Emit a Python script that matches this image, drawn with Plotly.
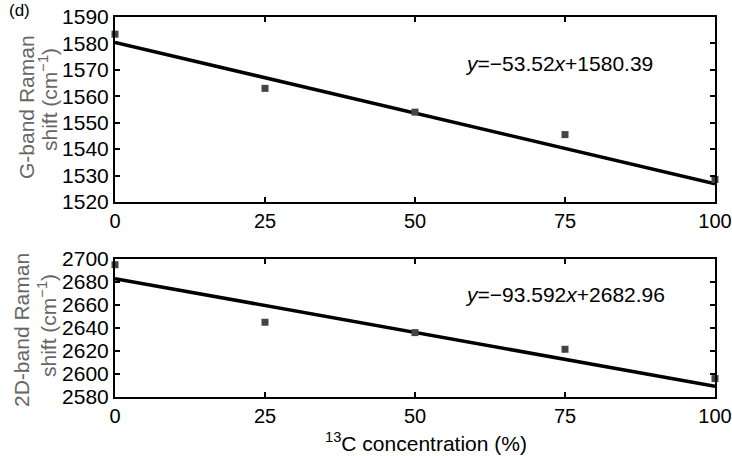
import plotly.graph_objects as go
from plotly.subplots import make_subplots

conc = [0, 25, 50, 75, 100]
g_shift = [1583.5, 1563, 1554, 1545.5, 1528.5]
d2_shift = [2695, 2645, 2636, 2621.5, 2596]
g_slope, g_int = -53.52, 1580.39
d_slope, d_int = -93.592, 2682.96
fit_x = [0, 100]
g_eq = "<i>y</i>=−53.52<i>x</i>+1580.39"
d_eq = "<i>y</i>=−93.592<i>x</i>+2682.96"
x_title = "<sup>13</sup>C concentration (%)"

FONT = "Liberation Sans, Arial, sans-serif"
L, R, T, B, W, H = 115, 17, 17, 59, 732, 456
PH = H - T - B
PW = W - L - R

def px_x(px):
    return (px - L) / PW

def px_y(py):
    return (H - B - py) / PH

fig = make_subplots(rows=2, cols=1, vertical_spacing=0.15)

g_fit = [g_int + g_slope * x / 100 for x in fit_x]
d_fit = [d_int + d_slope * x / 100 for x in fit_x]

fig.add_trace(go.Scatter(x=fit_x, y=g_fit, mode="lines", line=dict(color="black", width=3.5),
                         showlegend=False, cliponaxis=False), row=1, col=1)
fig.add_trace(go.Scatter(x=conc, y=g_shift, mode="markers",
                         marker=dict(symbol="square", size=7, color="#444"),
                         showlegend=False, cliponaxis=False), row=1, col=1)
fig.add_trace(go.Scatter(x=fit_x, y=d_fit, mode="lines", line=dict(color="black", width=3.5),
                         showlegend=False, cliponaxis=False), row=2, col=1)
fig.add_trace(go.Scatter(x=conc, y=d2_shift, mode="markers",
                         marker=dict(symbol="square", size=7, color="#444"),
                         showlegend=False, cliponaxis=False), row=2, col=1)

axis_common = dict(showline=True, linecolor="black", linewidth=2, mirror="ticks",
                   ticks="inside", ticklen=5, tickwidth=2, tickcolor="black",
                   showgrid=False, zeroline=False, ticklabeloverflow="allow",
                   automargin=False,
                   tickfont=dict(family=FONT, size=21, color="black"))

fig.update_xaxes(range=[0, 100], tickvals=conc, **axis_common)
fig.update_xaxes(domain=[0, 1], tickfont=dict(family=FONT, size=20, color="black"))
fig.update_yaxes(**axis_common)

fig.update_yaxes(range=[1520, 1590], dtick=10, domain=[px_y(202), 1.0], row=1, col=1)
fig.update_yaxes(range=[2580, 2700], dtick=20, domain=[0.0, px_y(259)], row=2, col=1)

fig.add_annotation(x=px_x(426), y=px_y(442), xref="paper", yref="paper", text=x_title,
                   showarrow=False, xanchor="center", yanchor="middle",
                   font=dict(family=FONT, size=21, color="black"))

title_font = dict(family=FONT, size=21, color="#666")
ann = dict(xref="paper", yref="paper", textangle=-90, showarrow=False,
           xanchor="center", yanchor="middle", font=title_font)
fig.add_annotation(x=px_x(27), y=px_y(107), text="G-band Raman", **ann)
fig.add_annotation(x=px_x(48), y=px_y(100), text="shift (cm<sup>−1</sup>)", **ann)
fig.add_annotation(x=px_x(21), y=px_y(330), text="2D-band Raman", **ann)
fig.add_annotation(x=px_x(47), y=px_y(326), text="shift (cm<sup>−1</sup>)", **ann)

fig.add_annotation(x=58, y=1572.5, xref="x", yref="y", text=g_eq, showarrow=False,
                   xanchor="left", yanchor="middle", font=dict(family=FONT, size=21, color="black"))
fig.add_annotation(x=58, y=2669, xref="x2", yref="y2", text=d_eq, showarrow=False,
                   xanchor="left", yanchor="middle", font=dict(family=FONT, size=21, color="black"))
fig.add_annotation(x=px_x(7), y=px_y(11), xref="paper", yref="paper", text="(d)", showarrow=False,
                   xanchor="left", yanchor="middle", font=dict(family=FONT, size=17, color="black"))

fig.update_layout(width=W, height=H, margin=dict(l=L, r=R, t=T, b=B),
                  plot_bgcolor="white", paper_bgcolor="white")

fig.write_html("out.html", config={"displayModeBar": False},
               post_script="document.body.style.margin='0px';document.body.style.overflow='hidden';")
